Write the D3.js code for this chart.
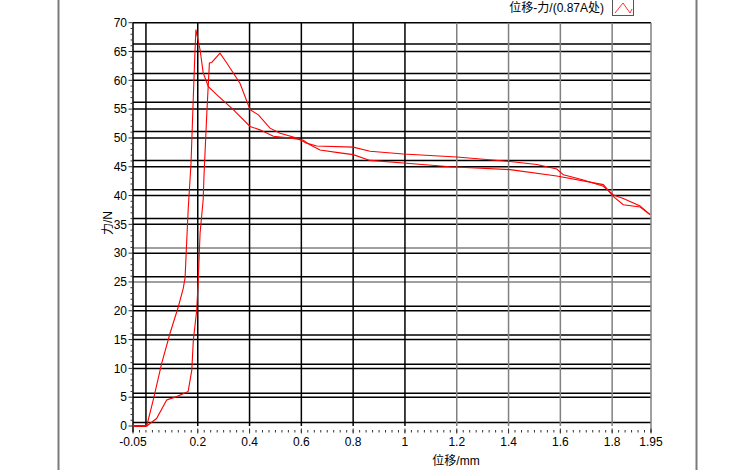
<!DOCTYPE html>
<html>
<head>
<meta charset="utf-8">
<script src="https://cdn.jsdelivr.net/npm/d3@7"></script>
<style>
  body { margin: 0; background: #fff; }
  text { font-family: "Liberation Sans", "Noto Sans CJK SC", sans-serif; font-size: 12px; fill: #000; }
</style>
</head>
<body>
<div id="chart"></div>
<script>
// displacement (mm) / force (N), two branches of the same trace
var branchA = [[-0.05,0],[0.0,0],[0.003,0],[0.028,4.5],[0.061,10.9],[0.093,16.1],[0.125,20.7],[0.144,23.9],
  [0.151,25.7],[0.157,31.7],[0.163,37.5],[0.174,45.6],[0.183,57.2],[0.189,64.7],[0.193,68.8],[0.202,66.8],
  [0.209,65.3],[0.221,61.3],[0.241,58.9],[0.273,57.5],[0.337,54.9],[0.402,52.0],[0.44,51.4],[0.492,50.3],
  [0.556,50.0],[0.608,49.6],[0.633,48.8],[0.672,47.9],[0.749,47.4],[0.8,47.1],[0.865,46.1],[1.007,45.6],
  [1.174,45.0],[1.406,44.5],[1.586,43.4],[1.766,41.9],[1.805,39.8],[1.843,38.4],[1.908,38.0],[1.946,36.7]];
var branchB = [[0.003,0],[0.041,1.3],[0.080,4.5],[0.119,5.1],[0.163,6.0],[0.177,9.7],[0.183,14.9],[0.196,20.1],
  [0.202,25.4],[0.209,33.5],[0.221,39.3],[0.224,43.3],[0.235,54.3],[0.245,63.0],[0.254,63.1],[0.286,64.7],
  [0.312,63.0],[0.363,59.5],[0.402,54.9],[0.434,54.0],[0.479,51.7],[0.518,50.8],[0.582,50.0],[0.62,49.1],
  [0.659,48.6],[0.8,48.4],[0.865,47.7],[0.994,47.2],[1.2,46.7],[1.406,45.9],[1.509,45.4],[1.586,44.6],
  [1.612,43.6],[1.689,42.7],[1.766,41.6],[1.805,40.1],[1.843,39.5],[1.908,38.2],[1.946,36.7]];

var xTicks = [-0.05,0.2,0.4,0.6,0.8,1,1.2,1.4,1.6,1.8,1.95];
var xTickLabels = ["-0.05","0.2","0.4","0.6","0.8","1","1.2","1.4","1.6","1.8","1.95"];
var xGrid = [0,0.2,0.4,0.6,0.8,1,1.2,1.4,1.6,1.8];
var xGridGray = [1.2,1.4,1.6,1.8];
var yTicks = [0,5,10,15,20,25,30,35,40,45,50,55,60,65,70];
var yGrid2 = [0.6,5.7,10.7,15.8,20.8,25.9,30.9,36.0,41.0,46.1,51.1,56.2,61.2,66.3];
var yGridGray = [25];
var yGrid2Gray = [30.9];

var W = 750, H = 470;
var svg = d3.select("#chart").append("svg")
  .attr("width", W).attr("height", H);

var x = d3.scaleLinear().domain([-0.05,1.95]).range([133,651]);
var y = d3.scaleLinear().domain([0,70]).range([426,22.7]);

// outer panel frame
svg.append("line").attr("x1",58.5).attr("x2",58.5).attr("y1",0).attr("y2",H)
  .attr("stroke","#7a7a7a").attr("stroke-width",2);
svg.append("line").attr("x1",696.5).attr("x2",696.5).attr("y1",0).attr("y2",H)
  .attr("stroke","#7a7a7a").attr("stroke-width",2);

var grid = svg.append("g");
// horizontal grid, main + offset set
grid.selectAll(".h1").data(yTicks.slice(1)).enter().append("line")
  .attr("x1",x(-0.05)).attr("x2",x(1.95))
  .attr("y1",function(d){return y(d);}).attr("y2",function(d){return y(d);})
  .attr("stroke",function(d){return yGridGray.indexOf(d) >= 0 ? "#808080" : "#000";})
  .attr("stroke-width",1.5);
grid.selectAll(".h2").data(yGrid2).enter().append("line")
  .attr("x1",x(-0.05)).attr("x2",x(1.95))
  .attr("y1",function(d){return y(d);}).attr("y2",function(d){return y(d);})
  .attr("stroke",function(d){return yGrid2Gray.indexOf(d) >= 0 ? "#808080" : "#000";})
  .attr("stroke-width",1.5);
// vertical grid
grid.selectAll(".v").data(xGrid).enter().append("line")
  .attr("x1",function(d){return x(d);}).attr("x2",function(d){return x(d);})
  .attr("y1",y(70)).attr("y2",y(0))
  .attr("stroke",function(d){return xGridGray.indexOf(d) >= 0 ? "#808080" : "#000";})
  .attr("stroke-width",1.5);
// right border
grid.append("line").attr("x1",x(1.95)).attr("x2",x(1.95)).attr("y1",y(70)).attr("y2",y(0)+6)
  .attr("stroke","#808080").attr("stroke-width",1.5);
// left axis line
grid.append("line").attr("x1",x(-0.05)).attr("x2",x(-0.05)).attr("y1",y(70)).attr("y2",y(0)+6)
  .attr("stroke","#000").attr("stroke-width",1.5);

// y axis ticks
var yMinor = d3.range(0,71,1);
svg.selectAll(".ym").data(yMinor).enter().append("line")
  .attr("x1",function(d){return d % 5 === 0 ? 128.5 : 130.5;}).attr("x2",133)
  .attr("y1",function(d){return y(d);}).attr("y2",function(d){return y(d);})
  .attr("stroke","#333").attr("stroke-width",1);
svg.selectAll(".yl").data(yTicks).enter().append("text")
  .attr("x",127).attr("y",function(d){return y(d);})
  .attr("dy","0.35em").attr("text-anchor","end")
  .text(function(d){return d;});

// x axis ticks
var xMinor = d3.range(0,81,1).map(function(i){return -0.05 + i*0.025;});
svg.selectAll(".xm").data(xMinor).enter().append("line")
  .attr("x1",function(d){return x(d);}).attr("x2",function(d){return x(d);})
  .attr("y1",430).attr("y2",432.5)
  .attr("stroke","#333").attr("stroke-width",1);
svg.selectAll(".xM").data(xTicks).enter().append("line")
  .attr("x1",function(d){return x(d);}).attr("x2",function(d){return x(d);})
  .attr("y1",428.5).attr("y2",433.5)
  .attr("stroke","#333").attr("stroke-width",1);
svg.selectAll(".xl").data(xTicks).enter().append("text")
  .attr("x",function(d){return x(d);}).attr("y",442)
  .attr("dy","0.35em").attr("text-anchor","middle")
  .text(function(d,i){return xTickLabels[i];});

// axis titles
svg.append("text").attr("x",456).attr("y",461).attr("dy","0.35em")
  .attr("text-anchor","middle").text("位移/mm");
svg.append("text").attr("transform","translate(108,223) rotate(-90)")
  .attr("dy","0.35em").attr("text-anchor","middle").text("力/N");

// curves
var line = d3.line().x(function(d){return x(d[0]);}).y(function(d){return y(d[1]);});
svg.append("path").datum(branchA).attr("d",line)
  .attr("fill","none").attr("stroke","#ff0000").attr("stroke-width",1.1);
svg.append("path").datum(branchB).attr("d",line)
  .attr("fill","none").attr("stroke","#ff0000").attr("stroke-width",1.1);
// thick flat start
svg.append("path").datum(branchA.slice(0,3)).attr("d",line)
  .attr("fill","none").attr("stroke","#ff0000").attr("stroke-width",2);

// legend
svg.append("text").attr("x",604).attr("y",8).attr("dy","0.35em")
  .attr("text-anchor","end").text("位移-力/(0.87A处)");
svg.append("rect").attr("x",612.5).attr("y",-1).attr("width",21).attr("height",16.5)
  .attr("fill","#fff").attr("stroke","#555").attr("stroke-width",1);
svg.append("path").attr("d","M615,13 L623,3 L630,13 L632,9")
  .attr("fill","none").attr("stroke","#ff3030").attr("stroke-width",1);
</script>
</body>
</html>
